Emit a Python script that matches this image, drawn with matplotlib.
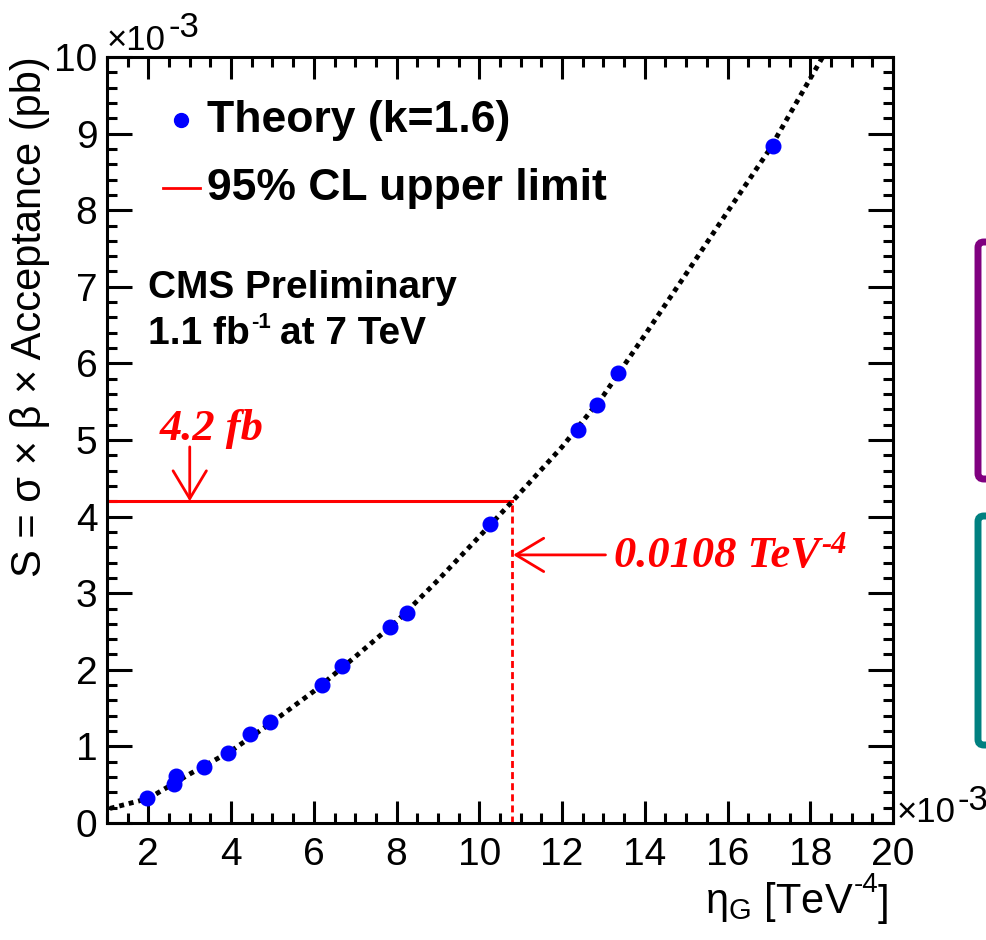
import matplotlib
matplotlib.use("Agg")
import matplotlib.pyplot as plt
from matplotlib.patches import FancyBboxPatch
from matplotlib.ticker import MultipleLocator, FormatStrFormatter

plt.rcParams['font.family'] = ['Liberation Sans', 'DejaVu Sans']
plt.rcParams['mathtext.fontset'] = 'custom'
plt.rcParams['mathtext.rm'] = 'Liberation Sans'
plt.rcParams['mathtext.it'] = 'Liberation Sans:italic'
plt.rcParams['mathtext.bf'] = 'Liberation Sans:bold'

# theory points (x in 1e-3 TeV^-4, S in 1e-3 pb)
eta_theory = [1.97, 2.62, 2.68, 3.34, 3.92, 4.46, 4.95, 6.19, 6.69, 7.84, 8.24,
              10.26, 12.38, 12.84, 13.36, 17.09]
S_theory = [0.33, 0.505, 0.61, 0.735, 0.918, 1.166, 1.32, 1.80, 2.05, 2.56, 2.74,
            3.90, 5.13, 5.46, 5.87, 8.84]

# fitted curve
eta_fit = [1.07, 2, 3, 4, 5, 6, 7, 8, 9, 10, 10.8, 12, 13, 14, 15, 16, 17, 18, 18.3]
S_fit = [0.19, 0.32, 0.64, 0.94, 1.32, 1.72, 2.17, 2.63, 3.17, 3.74, 4.2, 4.91,
         5.58, 6.37, 7.17, 7.98, 8.78, 9.72, 10.0]

# 95% CL limit
limit_S = 4.2
limit_eta = 10.8

W, H = 987, 940
fig = plt.figure(figsize=(W / 100, H / 100), dpi=100)
ax = fig.add_axes([107 / W, 1 - 823 / H, 786 / W, 766 / H])


def ax_x(px):
    return (px - 107) / 786


def ax_y(py):
    return (823 - py) / 766


# curve and points
ax.plot(eta_fit, S_fit, color='black', lw=3.5, linestyle=(0, (1, 1)), zorder=3)
ax.plot(eta_theory, S_theory, 'o', color='#0000ff', ms=10.5, mec='#0000ff', zorder=4)

# limit lines
ax.plot([1, limit_eta], [limit_S, limit_S], color='red', lw=2.2, zorder=2)
ax.plot([limit_eta, limit_eta], [0, limit_S], color='red', lw=2, linestyle=(0, (2.5, 1.5)), zorder=2)

arrow = dict(arrowstyle='->,head_length=2.0,head_width=1.2', color='red', lw=2,
             shrinkA=0, shrinkB=0, mutation_scale=10)
ax.annotate('', xy=(3.0, limit_S), xytext=(3.0, 4.91), arrowprops=arrow)
ax.annotate('', xy=(limit_eta + 0.02, 3.50), xytext=(13.05, 3.50), arrowprops=arrow)

serif = dict(family=['Liberation Serif', 'DejaVu Serif'], weight='bold', style='italic', color='red')
ax.text(2.28, 5.0, '4.2 fb', size=32, va='baseline', **serif)
t = ax.text(13.26, 3.34, '0.0108 TeV', size=32, va='baseline', **serif)
ax.annotate('-4', xy=(1, 1), xycoords=t, xytext=(1, 4), textcoords='offset points',
            ha='left', va='top', size=22, **serif)

# legend and labels inside the frame
ax.plot([ax_x(181)], [ax_y(120)], 'o', color='#0000ff', ms=10, transform=ax.transAxes, clip_on=False)
ax.text(ax_x(207), ax_y(132), 'Theory (k=1.6)', transform=ax.transAxes, size=32,
        weight='bold', va='baseline')
ax.plot([ax_x(163), ax_x(200)], [ax_y(188)] * 2, color='red', lw=2, transform=ax.transAxes)
ax.text(ax_x(207), ax_y(200), '95% CL upper limit', transform=ax.transAxes, size=32,
        weight='bold', va='baseline')
ax.text(ax_x(148), ax_y(298), 'CMS Preliminary', transform=ax.transAxes, size=28,
        weight='bold', va='baseline')
lumi = ax.text(ax_x(148), ax_y(344), '1.1 fb', transform=ax.transAxes, size=28,
               weight='bold', va='baseline')
ax.annotate('-1', xy=(1, 1), xycoords=lumi, xytext=(1, 3), textcoords='offset points',
            ha='left', va='top', size=16, weight='bold')
ax.annotate('at 7 TeV', xy=(1, 0), xycoords=lumi, xytext=(22, 0), textcoords='offset points',
            ha='left', va='bottom', size=28, weight='bold')

# axes
ax.set_xlim(1, 20)
ax.set_ylim(0, 10)
ax.xaxis.set_major_locator(MultipleLocator(2))
ax.xaxis.set_minor_locator(MultipleLocator(0.5))
ax.yaxis.set_major_locator(MultipleLocator(1))
ax.yaxis.set_minor_locator(MultipleLocator(0.2))
ax.xaxis.set_major_formatter(FormatStrFormatter('%d'))
ax.yaxis.set_major_formatter(FormatStrFormatter('%d'))
ax.tick_params(which='both', direction='in', top=True, right=True, width=2.2, labelsize=28)
ax.tick_params(axis='x', which='major', length=16, pad=10)
ax.tick_params(axis='y', which='major', length=18, pad=7)
ax.tick_params(which='minor', length=7.5)
for s in ax.spines.values():
    s.set_linewidth(2.2)

fig.text(30 / W, 1 - 317 / H, 'S = σ × β × Acceptance (pb)', rotation=90, size=30,
         ha='center', va='center')
xl = fig.text(705 / W, 1 - 913 / H, r'$\mathregular{\eta_G}$ [TeV', size=30,
              ha='left', va='baseline')
ax.annotate('-4', xy=(1, 1), xycoords=xl, xytext=(0, 6), textcoords='offset points',
            ha='left', va='top', size=20, annotation_clip=False)
ax.annotate(']', xy=(1, 0), xycoords=xl, xytext=(17, 0), textcoords='offset points',
            ha='left', va='bottom', size=30, annotation_clip=False)

# exponent labels
fig.text(107 / W, 1 - 50 / H, '×10', size=25, va='baseline')
fig.text(169 / W, 1 - 37 / H, '-3', size=25, va='baseline')
fig.text(897 / W, 1 - 822 / H, '×10', size=25, va='baseline')
fig.text(958 / W, 1 - 810 / H, '-3', size=25, va='baseline')

# boxes cut off at the right edge
fig.patches.append(FancyBboxPatch((978 / W, 1 - 479 / H), 60 / W, 237 / H,
                                  boxstyle='round,pad=0,rounding_size=0.006',
                                  transform=fig.transFigure, fc='white', ec='#800080', lw=5))
fig.patches.append(FancyBboxPatch((978 / W, 1 - 745 / H), 60 / W, 229 / H,
                                  boxstyle='round,pad=0,rounding_size=0.006',
                                  transform=fig.transFigure, fc='white', ec='#008080', lw=5))

fig.savefig('out.png', dpi=100)
